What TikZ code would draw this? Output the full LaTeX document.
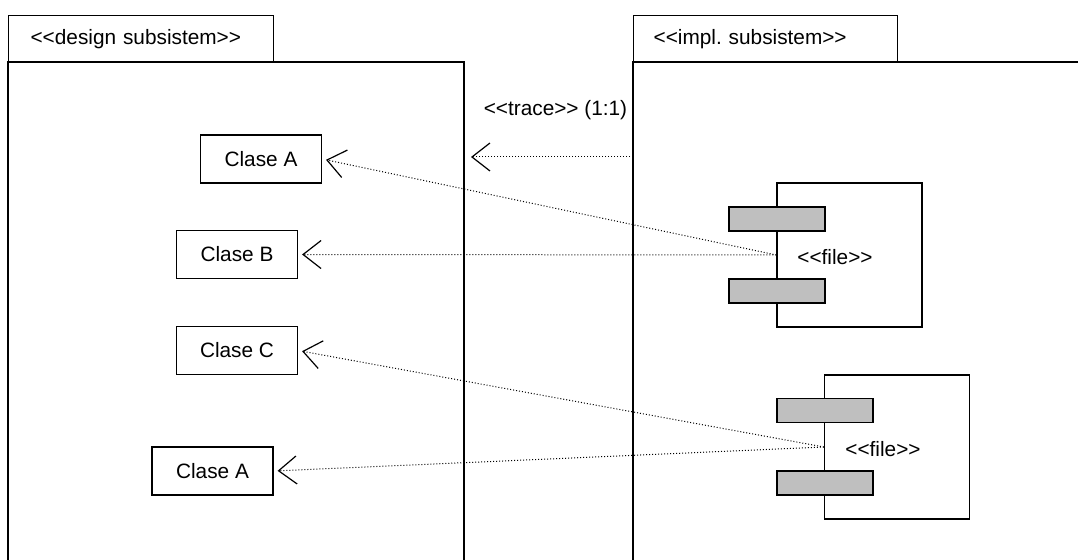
\documentclass[tikz,border=0pt]{standalone}
\usepackage{fontspec}
\newfontfamily\umlfont{Liberation Sans}
\usetikzlibrary{arrows.meta}

\tikzset{
	pkgtab/.style={draw, line width=0.6pt, anchor=north west, minimum height=23.5pt, align=left, inner ysep=0pt},
	classbox/.style={draw, line width=0.6pt, minimum width=60.5pt, minimum height=24pt, inner sep=0pt},
	compbox/.style={draw, line width=0.6pt, minimum width=72.5pt, minimum height=72pt, inner sep=0pt},
	port/.style={draw, line width=0.6pt, fill=black!25, minimum width=48pt, minimum height=12pt, inner sep=0pt},
	trace/.style={line width=0.5pt, dash pattern=on 0.5pt off 1pt, shorten >=2pt,
		-{Straight Barb[length=9pt, width=14pt, line width=0.6pt]}}
}

\begin{document}
\begin{tikzpicture}[x=0.5pt, y=-0.5pt, font=\umlfont\frenchspacing\fontsize{10.4pt}{12pt}\selectfont]
	\clip (0,0) rectangle (1078,560);
	\fill[white] (0,0) rectangle (1078,560);
	\node[pkgtab, minimum width=132.5pt, text width=110.5pt, inner xsep=11pt] (designtab) at (8,15) {<<design subsistem>>};
	\draw[line width=0.6pt] (8,62) rectangle (464,600);
	\node[pkgtab, minimum width=132pt, text width=112pt, inner xsep=10pt] (impltab) at (633,15) {<<impl. subsistem>>};
	\draw[line width=0.6pt] (633,62) rectangle (1100,600);

	\node[classbox] (claseA) at (261,159) {Clase A};
	\node[classbox] (claseB) at (237,254.5) {Clase B};
	\node[classbox] (claseC) at (237,350.5) {Clase C};
	\node[classbox] (claseA2) at (212.5,471) {Clase A};

	\node[compbox] (file1) at (849.5,255) {};
	\node[port] (file1top) at (777,219) {};
	\node[port] (file1bot) at (777,291) {};
	\node (file1txt) at (835,257) {<<file>>};
	\node[compbox] (file2) at (897,447) {};
	\node[port] (file2top) at (825,410.5) {};
	\node[port] (file2bot) at (825,483) {};
	\node (file2txt) at (883,449) {<<file>>};

	\node (tracetxt) at (555.5,110) {<<trace>> (1:1)};
	\coordinate (tracefrom) at (633,157);
	\coordinate (traceto) at (467,157);
	\draw[trace] (tracefrom) -- (traceto);

	\draw[trace] (file1.west) -- (claseA.east);
	\draw[trace] (file1.west) -- (claseB.east);
	\draw[trace] (file2.west) -- (claseC.east);
	\draw[trace] (file2.west) -- (claseA2.east);
\end{tikzpicture}
\end{document}
